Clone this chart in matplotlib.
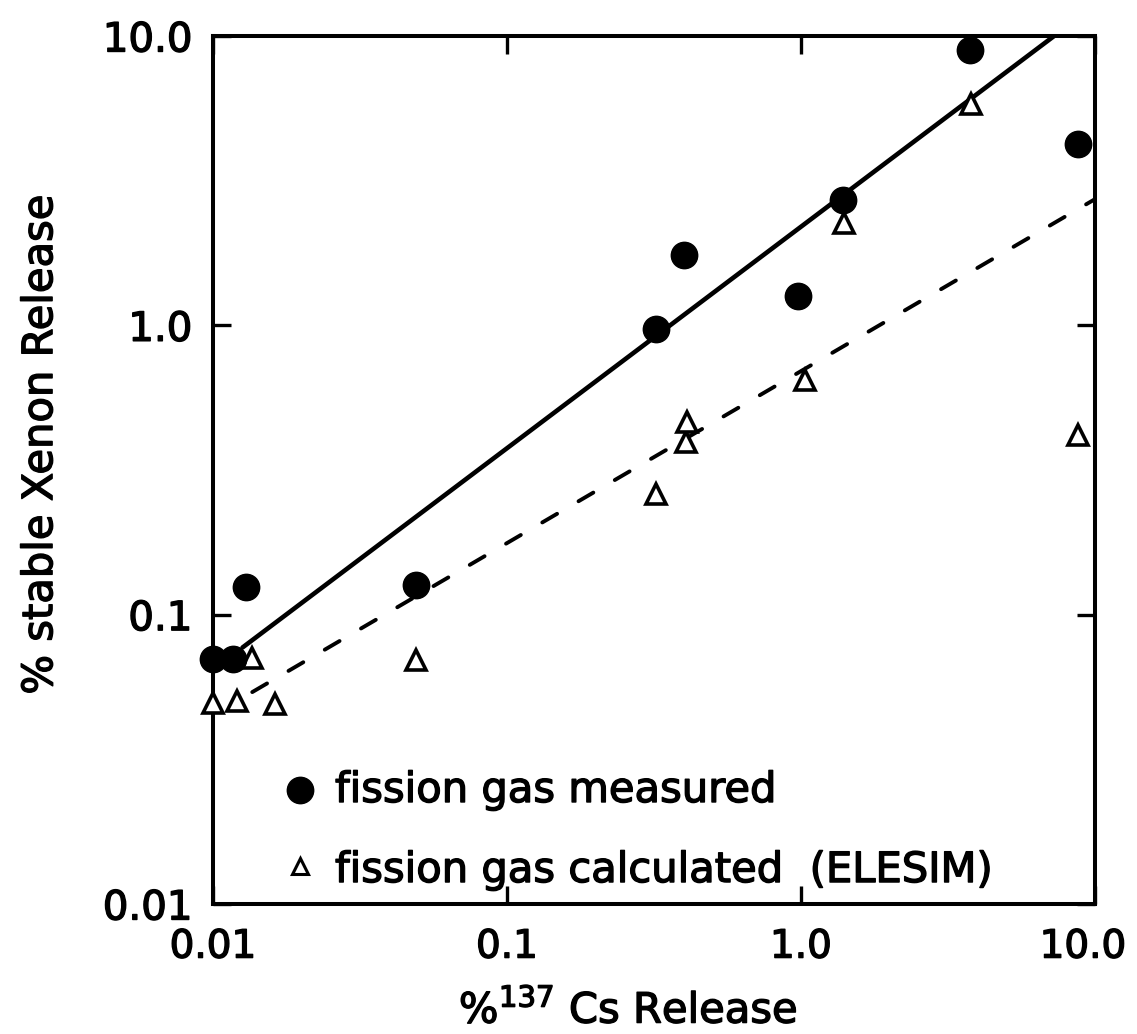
import matplotlib
matplotlib.use('Agg')
import matplotlib.pyplot as plt
import matplotlib.patheffects as pe
from matplotlib.ticker import NullLocator
from matplotlib.transforms import ScaledTranslation

plt.rcParams['font.family'] = ['DejaVu Sans']
plt.rcParams['mathtext.default'] = 'regular'

# --- data ---
meas_x = [0.010, 0.0117, 0.0129, 0.049, 0.32, 0.40, 0.98, 1.39, 3.75, 8.78]
meas_y = [0.070, 0.070, 0.125, 0.127, 0.97, 1.75, 1.26, 2.71, 8.95, 4.25]

calc_x = [0.010, 0.0121, 0.0136, 0.0163, 0.049, 0.32, 0.405, 0.41, 1.03, 1.40, 3.78, 8.78]
calc_y = [0.0496, 0.0504, 0.071, 0.0493, 0.0697, 0.262, 0.396, 0.464, 0.645, 2.25, 5.82, 0.417]

solid_x = [0.0126, 7.26]
solid_y = [0.077, 10.0]
dash_x = [0.0136, 10.0]
dash_y = [0.054, 2.73]

tick_vals = [0.01, 0.1, 1.0, 10.0]
tick_labels = ['0.01', '0.1', '1.0', '10.0']

legend_labels = ['fission gas measured', 'fission gas calculated  (ELESIM)']

bold = [pe.withStroke(linewidth=1.0, foreground='black')]

fig = plt.figure(figsize=(11.37, 10.34), dpi=100)
ax = fig.add_axes([0.18734, 0.12573, 0.77573, 0.83946])
ax.set_xscale('log')
ax.set_yscale('log')
ax.set_xlim(0.01, 10)
ax.set_ylim(0.01, 10)

ax.plot(solid_x, solid_y, '-', color='black', lw=3.3, solid_capstyle='round', zorder=2)
ax.plot(dash_x, dash_y, color='black', lw=2.8, dashes=(4.4, 6.4),
        dash_capstyle='round', zorder=2)
ax.plot(meas_x, meas_y, 'o', ms=19, color='black', ls='none', clip_on=False, zorder=4)
ax.plot(calc_x, calc_y, '^', ms=15, mfc='white', mec='black', mew=2.6, ls='none',
        clip_on=False, zorder=3)

ax.set_xticks(tick_vals, labels=tick_labels)
ax.set_yticks(tick_vals, labels=tick_labels)
ax.xaxis.set_minor_locator(NullLocator())
ax.yaxis.set_minor_locator(NullLocator())
ax.tick_params(which='major', direction='in', length=13, width=2.4, top=True,
               right=True, labelsize=29)
ax.tick_params(axis='x', pad=17, labelsize=28)
ax.tick_params(axis='y', pad=15)
for lab in ax.get_xticklabels() + ax.get_yticklabels():
    lab.set_path_effects(bold)
# the last x tick label sits a little left of its tick, as in the reference
last = ax.xaxis.get_major_ticks()[-1].label1
last.set_transform(last.get_transform() +
                   ScaledTranslation(-12 / 100, 0, fig.dpi_scale_trans))
for s in ax.spines.values():
    s.set_linewidth(2.9)

ax.set_ylabel('% stable Xenon Release', fontsize=30, ha='center', va='center',
              path_effects=bold)
ax.yaxis.set_label_coords(-0.196, 0.529)
ax.set_xlabel('%$^{137}$ Cs Release', fontsize=30, ha='center', va='baseline',
              path_effects=bold)
ax.xaxis.set_label_coords(0.4705, -0.137)

# legend drawn inside the axes
ax.plot([0.0986], [0.1313], 'o', ms=19, color='black', transform=ax.transAxes,
        clip_on=False)
ax.text(0.1383, 0.1175, legend_labels[0], transform=ax.transAxes, fontsize=30,
        va='baseline', ha='left', path_effects=bold)
ax.plot([0.0986], [0.0438], '^', ms=11.5, mfc='white', mec='black', mew=2.2,
        transform=ax.transAxes, clip_on=False)
ax.text(0.1383, 0.0253, legend_labels[1], transform=ax.transAxes, fontsize=30,
        va='baseline', ha='left', path_effects=bold)

fig.savefig('out.png', dpi=100)
